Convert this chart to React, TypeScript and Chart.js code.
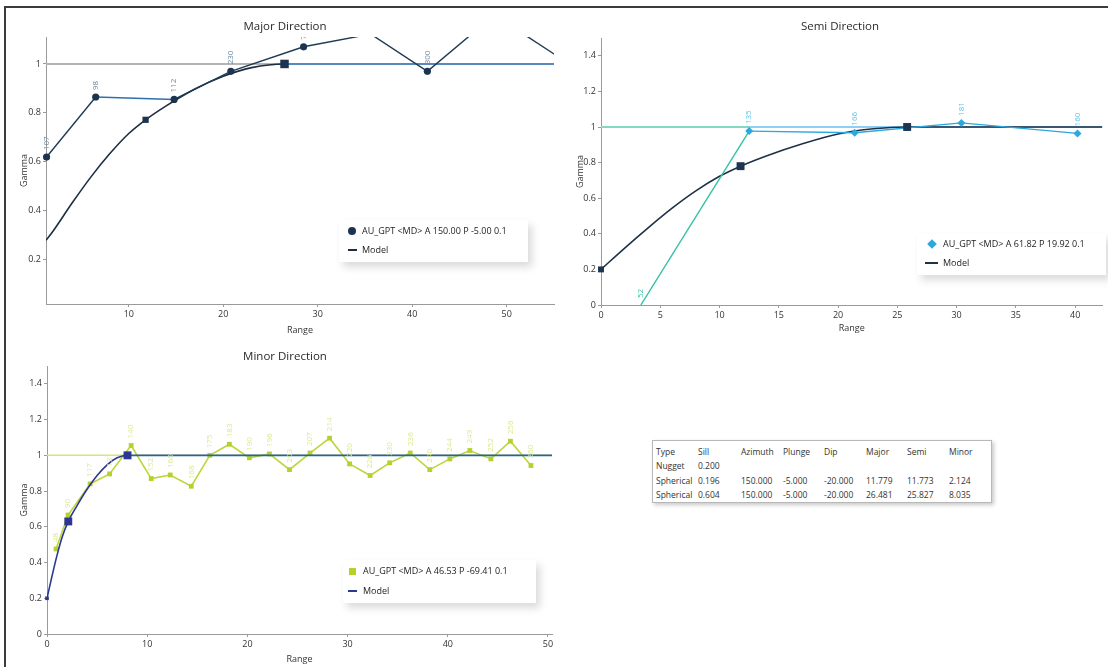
import React, { useEffect, useRef } from "react";
import { Chart, registerables } from "chart.js";
Chart.register(...registerables);

const FONT = "'Open Sans', 'Noto Sans', 'DejaVu Sans', sans-serif";

// ---------------- Major Direction ----------------
const majorTitle = "Major Direction";
const majorXBounds = [1.24, 55];
const majorYBounds = [0.02, 1.11];
const majorXTicks = [10, 20, 30, 40, 50];
const majorYTicks = [0.2, 0.4, 0.6, 0.8, 1];
const majorLag = [1.3, 6.5, 14.8, 20.8, 28.5, 35.6, 41.6, 48.7, 57];
const majorGamma = [0.62, 0.865, 0.855, 0.97, 1.07, 1.122, 0.97, 1.2, 0.99];
const majorPairs = ["107", "98", "112", "230", "74", "", "300", "", ""];
const majorModelLag = [1.24, 2, 4, 6, 8, 10, 11.779, 14, 17, 20, 23, 26.481, 55];
const majorModelGamma = [0.28, 0.318, 0.432, 0.539, 0.634, 0.716, 0.772, 0.83, 0.898, 0.95, 0.985, 1, 1];
const majorRangeLag = [11.779, 26.481];
const majorRangeGamma = [0.772, 1];
const majorLegendText = "AU_GPT <MD> A 150.00 P -5.00 0.1";

// ---------------- Semi Direction ----------------
const semiTitle = "Semi Direction";
const semiXBounds = [0, 42.3];
const semiYBounds = [0, 1.5];
const semiXTicks = [0, 5, 10, 15, 20, 25, 30, 35, 40];
const semiYTicks = [0, 0.2, 0.4, 0.6, 0.8, 1, 1.2, 1.4];
const semiLag = [3.36, 12.5, 21.4, 30.4, 40.2];
const semiGamma = [0, 0.977, 0.968, 1.023, 0.964];
const semiPairs = ["52", "135", "166", "181", "160"];
const semiModelLag = [0, 2, 4, 6, 8, 10, 11.773, 14, 17, 20, 23, 25.827, 42.3];
const semiModelGamma = [0.2, 0.32, 0.435, 0.544, 0.641, 0.723, 0.78, 0.839, 0.906, 0.961, 0.99, 1, 1];
const semiRangeLag = [0, 11.773, 25.827];
const semiRangeGamma = [0.2, 0.78, 1];
const semiLegendText = "AU_GPT <MD> A 61.82 P 19.92 0.1";

// ---------------- Minor Direction ----------------
const minorTitle = "Minor Direction";
const minorXBounds = [0, 50.4];
const minorYBounds = [0, 1.5];
const minorXTicks = [0, 10, 20, 30, 40, 50];
const minorYTicks = [0, 0.2, 0.4, 0.6, 0.8, 1, 1.2, 1.4];
const minorLag = [0.9, 2.1, 4.3, 6.25, 8.4, 10.4, 12.3, 14.4, 16.25, 18.2, 20.2, 22.2, 24.2, 26.25, 28.2, 30.2, 32.25, 34.2, 36.25, 38.2, 40.2, 42.2, 44.3, 46.25, 48.3];
const minorGamma = [0.476, 0.666, 0.84, 0.896, 1.055, 0.87, 0.89, 0.827, 1.0, 1.062, 0.986, 1.008, 0.92, 1.013, 1.096, 0.952, 0.887, 0.958, 1.013, 0.92, 0.98, 1.027, 0.98, 1.079, 0.943];
const minorPairs = ["48", "90", "117", "131", "140", "152", "160", "168", "175", "183", "190", "196", "203", "207", "214", "220", "226", "230", "236", "240", "244", "249", "252", "256", "260"];
const minorModelLag = [0, 0.5, 1, 1.5, 2.124, 3, 4, 5, 6, 7, 8.035, 50.4];
const minorModelGamma = [0.2, 0.324, 0.44, 0.54, 0.63, 0.719, 0.81, 0.887, 0.947, 0.986, 1, 1];
const minorRangeLag = [0, 2.124, 8.035];
const minorRangeGamma = [0.2, 0.63, 1];
const minorLegendText = "AU_GPT <MD> A 46.53 P -69.41 0.1";

// ---------------- Model table ----------------
const tableHeader = ["Type", "Sill", "Azimuth", "Plunge", "Dip", "Major", "Semi", "Minor"];
const tableRows = [
  ["Nugget", "0.200", "", "", "", "", "", ""],
  ["Spherical", "0.196", "150.000", "-5.000", "-20.000", "11.779", "11.773", "2.124"],
  ["Spherical", "0.604", "150.000", "-5.000", "-20.000", "26.481", "25.827", "8.035"],
];

const pts = (xs: number[], ys: number[]) => xs.map((x, i) => ({ x, y: ys[i] }));

type Spec = {
  left: number; top: number; width: number; height: number;
  title: string; titleX: number; titleY: number;
  xB: number[]; yB: number[]; xTicks: number[]; yTicks: number[];
  yAxisW: number; xAxisH: number; padTop: number; padRight: number;
  gammaPad: number; rangePad: number;
  datasets: any[];
  lx: number[]; ly: number[]; lt: string[]; lcolor: (i: number) => string;
};

function makeDecor(s: Spec) {
  return {
    id: "decor",
    afterDatasetsDraw(chart: any) {
      const { ctx, chartArea, scales } = chart;
      ctx.save();
      ctx.beginPath();
      ctx.rect(chartArea.left - 6, chartArea.top, chartArea.right - chartArea.left + 6, chartArea.bottom - chartArea.top);
      ctx.clip();
      ctx.font = `8px ${FONT}`;
      s.lt.forEach((t, i) => {
        if (!t) return;
        const px = scales.x.getPixelForValue(s.lx[i]);
        const py = scales.y.getPixelForValue(s.ly[i]);
        ctx.save();
        ctx.fillStyle = s.lcolor(i);
        ctx.translate(px, py - 7);
        ctx.rotate(-Math.PI / 2);
        ctx.textAlign = "left";
        ctx.textBaseline = "middle";
        ctx.fillText(t, 0, 0);
        ctx.restore();
      });
      ctx.restore();
    },
    afterDraw(chart: any) {
      const ctx = chart.ctx;
      ctx.save();
      ctx.font = `11.5px ${FONT}`;
      ctx.fillStyle = "#2a2a2a";
      ctx.textAlign = "center";
      ctx.textBaseline = "middle";
      ctx.fillText(s.title, s.titleX, s.titleY);
      ctx.restore();
    },
  };
}

function axisCommon(ticksArr: number[]) {
  return {
    type: "linear",
    afterBuildTicks: (sc: any) => {
      sc.ticks = ticksArr.map((v) => ({ value: v }));
    },
    grid: { display: true, drawOnChartArea: false, drawTicks: true, tickLength: 3, color: "#9a9a9a" },
    border: { display: true, color: "#9a9a9a", width: 1 },
    ticks: {
      font: { family: FONT, size: 9 },
      color: "#333",
      padding: 2,
      maxRotation: 0,
      autoSkip: false,
      callback: (v: any) => String(v),
    },
  };
}

function ChartCanvas({ spec }: { spec: Spec }) {
  const ref = useRef<HTMLCanvasElement | null>(null);
  useEffect(() => {
    if (!ref.current) return;
    const s = spec;
    const chart = new Chart(ref.current, {
      type: "scatter",
      data: { datasets: s.datasets },
      options: {
        responsive: false,
        animation: false,
        events: [],
        layout: { padding: { top: s.padTop, right: s.padRight, left: 0, bottom: 0 } },
        plugins: { legend: { display: false }, tooltip: { enabled: false }, title: { display: false } },
        scales: {
          x: {
            ...axisCommon(s.xTicks),
            min: s.xB[0],
            max: s.xB[1],
            afterFit: (sc: any) => { sc.height = s.xAxisH; },
            title: { display: true, text: "Range", color: "#333", font: { family: FONT, size: 9 }, padding: { top: 0, bottom: s.rangePad } },
          },
          y: {
            ...axisCommon(s.yTicks),
            min: s.yB[0],
            max: s.yB[1],
            afterFit: (sc: any) => { sc.width = s.yAxisW; },
            title: { display: true, text: "Gamma", color: "#333", font: { family: FONT, size: 9 }, padding: { top: s.gammaPad, bottom: 0 } },
          },
        },
      } as any,
      plugins: [makeDecor(s)],
    });
    return () => chart.destroy();
  }, [spec]);
  return (
    <canvas
      ref={ref}
      width={spec.width}
      height={spec.height}
      style={{ position: "absolute", left: spec.left, top: spec.top, width: spec.width, height: spec.height }}
    />
  );
}

// ---------------- specs ----------------
const MAJ_NAVY = "#1c3450";
const majorSpec: Spec = {
  left: 6, top: 8, width: 554, height: 332,
  title: majorTitle, titleX: 279, titleY: 19,
  xB: majorXBounds, yB: majorYBounds, xTicks: majorXTicks, yTicks: majorYTicks,
  yAxisW: 40, xAxisH: 36, padTop: 29, padRight: 5, gammaPad: 12.6, rangePad: 4.6,
  datasets: [
    { data: pts(majorXBounds, [1, 1]), showLine: true, borderColor: "#b4b4b4", borderWidth: 2, pointRadius: 0, order: 5 },
    {
      data: pts(majorModelLag, majorModelGamma), showLine: true, borderWidth: 1.6, pointRadius: 0,
      borderColor: "#1d2d42", cubicInterpolationMode: "monotone", order: 4,
      segment: { borderColor: (c: any) => (c.p0.parsed.x >= majorRangeLag[1] - 0.01 ? "#3b7bbd" : "#1d2d42") },
    },
    {
      data: pts(majorLag, majorGamma), showLine: true, borderWidth: 1.4, borderColor: "#1e3a57",
      pointRadius: [3.6, 3.6, 3.6, 3.6, 3.6, 0, 3.6, 0, 0], pointBackgroundColor: MAJ_NAVY, pointBorderWidth: 0, order: 2,
      clip: { left: 6, top: 0, right: 0, bottom: 0 },
      segment: { borderColor: (c: any) => (c.p0DataIndex === 1 ? "#2f6fae" : "#1e3a57") },
    },
    {
      data: pts(majorRangeLag, majorRangeGamma), showLine: false, pointStyle: "rect",
      pointRadius: [4.4, 6], pointBackgroundColor: MAJ_NAVY, pointBorderWidth: 0, clip: false, order: 1,
    },
  ],
  lx: majorLag, ly: majorGamma, lt: majorPairs, lcolor: () => "#6c87a3",
};

const semiSpec: Spec = {
  left: 566, top: 8, width: 542, height: 332,
  title: semiTitle, titleX: 274, titleY: 19,
  xB: semiXBounds, yB: semiYBounds, xTicks: semiXTicks, yTicks: semiYTicks,
  yAxisW: 35, xAxisH: 35, padTop: 30, padRight: 0, gammaPad: 8.6, rangePad: 6.6,
  datasets: [
    {
      data: pts([semiXBounds[0], semiLag[1], semiXBounds[1]], [1, 1, 1]), showLine: true, borderWidth: 2, pointRadius: 0, order: 5,
      borderColor: "#8ecff5",
      segment: { borderColor: (c: any) => (c.p0DataIndex === 0 ? "#86d8c2" : "#8ecff5") },
    },
    {
      data: pts(semiModelLag, semiModelGamma), showLine: true, borderWidth: 1.6, pointRadius: 0,
      borderColor: "#1f3147", cubicInterpolationMode: "monotone", order: 4,
    },
    {
      data: pts(semiLag, semiGamma), showLine: true, borderWidth: 1.4, borderColor: "#2aa8df",
      pointStyle: "rectRot", pointRadius: [0, 4, 4, 4, 4], pointBackgroundColor: "#2aa8df", pointBorderWidth: 0, order: 2,
      segment: { borderColor: (c: any) => (c.p0DataIndex === 0 ? "#33c1a3" : "#2aa8df") },
    },
    {
      data: pts(semiRangeLag, semiRangeGamma), showLine: false, pointStyle: "rect",
      pointRadius: [4.2, 5.6, 5.6], pointBackgroundColor: "#1d3550", pointBorderWidth: 0, clip: false, order: 1,
    },
  ],
  lx: semiLag, ly: semiGamma, lt: semiPairs, lcolor: (i) => (i === 0 ? "#3cc4a5" : "#5cc3ec"),
};

const minorSpec: Spec = {
  left: 6, top: 344, width: 554, height: 323,
  title: minorTitle, titleX: 279, titleY: 13,
  xB: minorXBounds, yB: minorYBounds, xTicks: minorXTicks, yTicks: minorYTicks,
  yAxisW: 41, xAxisH: 33, padTop: 22, padRight: 8, gammaPad: 12.6, rangePad: 2.6,
  datasets: [
    { data: pts(minorXBounds, [1, 1]), showLine: true, borderColor: "#d3e67a", borderWidth: 1.5, pointRadius: 0, order: 5 },
    {
      data: pts(minorModelLag, minorModelGamma), showLine: true, borderWidth: 1.6, pointRadius: 0,
      borderColor: "#2d3990", cubicInterpolationMode: "monotone", order: 2,
      segment: { borderColor: (c: any) => (c.p0.parsed.x >= minorRangeLag[2] - 0.01 ? "#2b60a4" : "#2d3990") },
    },
    {
      data: pts(minorLag, minorGamma), showLine: true, borderWidth: 1.6, borderColor: "#bcd63a",
      pointStyle: "rect", pointRadius: 3.4, pointBackgroundColor: "#b5d22c", pointBorderWidth: 0, order: 3,
      clip: { left: 6, top: 0, right: 0, bottom: 0 },
    },
    {
      data: pts(minorRangeLag, minorRangeGamma), showLine: false, pointStyle: "rect",
      pointRadius: [2.6, 5.6, 5.6], pointBackgroundColor: "#2b3791", pointBorderWidth: 0, clip: false, order: 1,
    },
  ],
  lx: minorLag, ly: minorGamma, lt: minorPairs, lcolor: () => "#dbe98f",
};

// ---------------- HTML pieces ----------------
type LegendProps = {
  left: number; top: number; width: number; height: number;
  r1: number; r2: number; mx: number; tx: number; l1: number; l2: number;
  marker: "circle" | "diamond" | "square"; markerColor: string; lineColor: string; text: string;
};

function Legend(p: LegendProps) {
  const mk: any = { position: "absolute", left: p.mx - 4, top: p.r1 - 4, width: 8, height: 8, background: p.markerColor };
  if (p.marker === "circle") mk.borderRadius = "50%";
  if (p.marker === "diamond") { mk.transform = "rotate(45deg) scale(0.85)"; }
  if (p.marker === "square") { mk.left = p.mx - 3.5; mk.top = p.r1 - 3.5; mk.width = 7; mk.height = 7; }
  const txt: any = { position: "absolute", left: p.tx, whiteSpace: "nowrap", fontSize: 9, lineHeight: "12px", color: "#222", transform: "translateY(-50%)" };
  return (
    <div style={{ position: "absolute", left: p.left, top: p.top, width: p.width, height: p.height, background: "#fff", boxShadow: "4px 5px 8px rgba(0,0,0,0.15)", fontFamily: FONT }}>
      <div style={mk} />
      <div style={{ ...txt, top: p.r1 }}>{p.text}</div>
      <div style={{ position: "absolute", left: p.l1, top: p.r2 - 0.75, width: p.l2 - p.l1, height: 1.5, background: p.lineColor }} />
      <div style={{ ...txt, top: p.r2 }}>Model</div>
    </div>
  );
}

function ModelTable() {
  const colX = [3, 45, 88, 130, 171, 213, 254, 296];
  const rowY = [10, 23.5, 39, 53];
  const all = [tableHeader, ...tableRows];
  return (
    <div style={{ position: "absolute", left: 652, top: 440, width: 338, height: 61, background: "#fff", border: "1px solid #b8b8b8", boxShadow: "2px 2px 4px rgba(0,0,0,0.22)", fontFamily: FONT, fontSize: 8.5, color: "#333" }}>
      {all.map((row, r) =>
        row.map((cell, c) => (
          <div key={r + "-" + c} style={{ position: "absolute", left: colX[c], top: rowY[r], transform: "translateY(-50%)", whiteSpace: "nowrap", lineHeight: "11px" }}>{cell}</div>
        ))
      )}
    </div>
  );
}

export default function App() {
  useEffect(() => {
    document.body.style.margin = "0";
  }, []);
  return (
    <div style={{ position: "absolute", left: 0, top: 0, width: 1108, height: 667, overflow: "hidden", background: "#fff" }}>
      <div style={{ position: "absolute", left: 4, top: 6, width: 1120, height: 680, borderTop: "2px solid #3c3c3c", borderLeft: "2px solid #3c3c3c" }} />
      <ChartCanvas spec={majorSpec} />
      <ChartCanvas spec={semiSpec} />
      <ChartCanvas spec={minorSpec} />
      <Legend left={339} top={220} width={189} height={42} r1={11} r2={30} mx={13} tx={23} l1={9} l2={18}
        marker="circle" markerColor={MAJ_NAVY} lineColor="#1d2d42" text={majorLegendText} />
      <Legend left={917} top={234} width={189} height={41} r1={10} r2={29} mx={15} tx={26} l1={8} l2={21}
        marker="diamond" markerColor="#2aa8df" lineColor="#1f3147" text={semiLegendText} />
      <Legend left={343} top={560} width={193} height={43} r1={11} r2={31} mx={9} tx={20} l1={5} l2={14}
        marker="square" markerColor="#b5d22c" lineColor="#2d3990" text={minorLegendText} />
      <ModelTable />
    </div>
  );
}
